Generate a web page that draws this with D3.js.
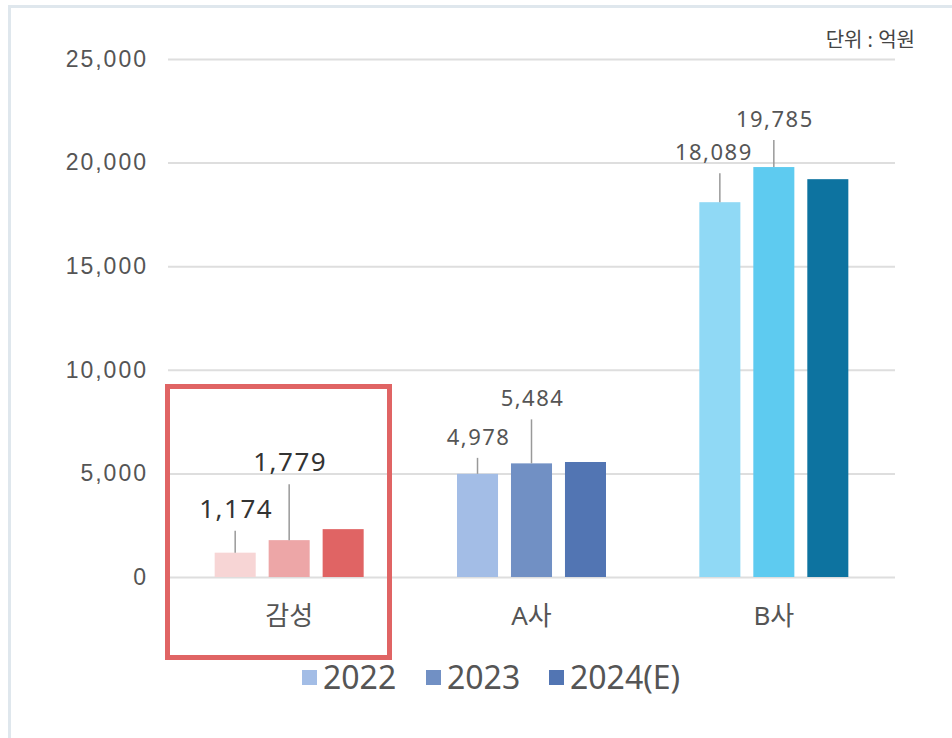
<!DOCTYPE html>
<html>
<head>
<meta charset="utf-8">
<script src="https://cdn.jsdelivr.net/npm/d3@7"></script>
<style>
  body { margin: 0; background: #fff; }
  svg { display: block; font-family: "Noto Sans", "Noto Sans CJK KR", sans-serif; }
</style>
</head>
<body>
<div id="chart"></div>
<script>
// chart data
var categories = ["감성", "A사", "B사"];
var seriesNames = ["2022", "2023", "2024(E)"];
var values2022 = [1174, 4978, 18089];
var values2023 = [1779, 5484, 19785];
var values2024 = [2310, 5550, 19200];
var yTicks = [0, 5000, 10000, 15000, 20000, 25000];

// each company has its own palette, legend uses the A사 one
var palettes = [
  ["#f7d5d5", "#eda6a7", "#e06464"],
  ["#a3bde6", "#7190c4", "#5275b3"],
  ["#90d9f5", "#5ecbf0", "#0d73a0"]
];
// length of leader line above the labelled bars (2022, 2023)
var leaderLen = [[22, 56], [16, 44], [29, 27]];

var W = 952, H = 738;
var margin = {top: 59, right: 57, bottom: 161, left: 168};
var width = W - margin.left - margin.right,
    height = H - margin.top - margin.bottom;

var svg = d3.select("#chart").append("svg")
  .attr("width", W)
  .attr("height", H);

// card border
svg.append("rect")
  .attr("x", 9.5).attr("y", 6.5)
  .attr("width", W + 20).attr("height", H + 20)
  .attr("fill", "none")
  .attr("stroke", "#dfe7ed")
  .attr("stroke-width", 3);

var g = svg.append("g")
  .attr("transform", "translate(" + margin.left + "," + margin.top + ")");

var x = d3.scaleBand()
  .domain(categories)
  .range([0, width]);

var x1 = d3.scaleBand()
  .domain(seriesNames)
  .range([0, 149])
  .paddingInner(0.24);

var y = d3.scaleLinear()
  .domain([0, 25000])
  .range([height, 0]);

// grid + y labels
var yAxis = g.append("g")
  .call(d3.axisLeft(y).tickValues(yTicks).tickSize(-width).tickPadding(20).tickFormat(d3.format(",")));
yAxis.select(".domain").remove();
yAxis.selectAll(".tick line").attr("stroke", "#dedede").attr("stroke-width", 2);
yAxis.selectAll(".tick text")
  .attr("fill", "#555")
  .style("font-size", "23px")
  .style("letter-spacing", "2px");

var table = categories.map(function(c, i) {
  return {cat: c, i: i, vals: [values2022[i], values2023[i], values2024[i]]};
});

var groups = g.selectAll(".grp")
  .data(table)
  .enter().append("g")
  .attr("transform", function(d) { return "translate(" + (x(d.cat) + (x.bandwidth() - 149) / 2) + ",0)"; });

groups.selectAll("rect")
  .data(function(d) { return d.vals.map(function(v, k) { return {v: v, k: k, i: d.i}; }); })
  .enter().append("rect")
  .attr("x", function(d) { return x1(seriesNames[d.k]); })
  .attr("y", function(d) { return y(d.v); })
  .attr("width", x1.bandwidth())
  .attr("height", function(d) { return height - y(d.v); })
  .attr("fill", function(d) { return palettes[d.i][d.k]; });

// value labels with leader lines on 2022 and 2023
var labelled = groups.selectAll(".lab")
  .data(function(d) { return d.vals.slice(0, 2).map(function(v, k) { return {v: v, k: k, i: d.i}; }); })
  .enter().append("g");

labelled.append("line")
  .attr("x1", function(d) { return x1(seriesNames[d.k]) + x1.bandwidth() / 2; })
  .attr("x2", function(d) { return x1(seriesNames[d.k]) + x1.bandwidth() / 2; })
  .attr("y1", function(d) { return y(d.v); })
  .attr("y2", function(d) { return y(d.v) - leaderLen[d.i][d.k]; })
  .attr("stroke", "#999")
  .attr("stroke-width", 1.5);

labelled.append("text")
  .attr("x", function(d) { return x1(seriesNames[d.k]) + x1.bandwidth() / 2 + (d.i == 2 && d.k == 0 ? -7 : 0) + 1; })
  .attr("y", function(d) { return y(d.v) - leaderLen[d.i][d.k] - 13; })
  .attr("text-anchor", "middle")
  .attr("fill", function(d) { return d.i == 0 ? "#333" : "#555"; })
  .style("font-size", function(d) { return d.i == 0 ? "26px" : "22px"; })
  .style("letter-spacing", "1.5px")
  .text(function(d) { return d3.format(",")(d.v); });

// category names
g.selectAll(".cat")
  .data(categories)
  .enter().append("text")
  .attr("x", function(d) { return x(d) + x.bandwidth() / 2; })
  .attr("y", height + 48)
  .attr("text-anchor", "middle")
  .attr("fill", "#555")
  .style("font-size", "26px")
  .text(function(d) { return d; });

// highlight box round 감성
svg.append("rect")
  .attr("x", 167.5).attr("y", 386.5)
  .attr("width", 222).attr("height", 271)
  .attr("fill", "none")
  .attr("stroke", "#e06464")
  .attr("stroke-width", 5);

// unit
svg.append("text")
  .attr("x", 915).attr("y", 47)
  .attr("text-anchor", "end")
  .attr("fill", "#444")
  .style("font-size", "20px")
  .text("단위 : 억원");

// legend
var legendX = [302, 426, 549];
var legend = svg.selectAll(".leg")
  .data(seriesNames)
  .enter().append("g")
  .attr("transform", function(d, k) { return "translate(" + legendX[k] + ",670)"; });
legend.append("rect")
  .attr("width", 15).attr("height", 15)
  .attr("fill", function(d, k) { return palettes[1][k]; });
legend.append("text")
  .attr("x", 21).attr("y", 19)
  .attr("fill", "#555")
  .style("font-size", "32px")
  .text(function(d) { return d; });
</script>
</body>
</html>
